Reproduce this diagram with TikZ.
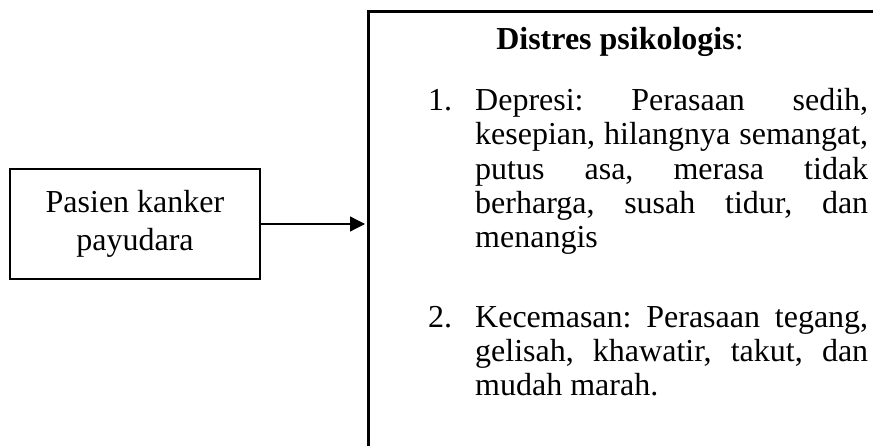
\documentclass[tikz,border=0pt]{standalone}
\usepackage{fontspec}
\setmainfont{Liberation Serif}
\usetikzlibrary{arrows.meta,positioning}
\newcommand{\penuh}[1]{\makebox[393pt][s]{#1}}
\frenchspacing

\begin{document}
\begin{tikzpicture}[x=1pt,y=-1pt,>={Triangle[length=15pt,width=15pt]},
  kotak/.style={draw,line width=2.6pt,rectangle,inner sep=0pt},
  teks/.style={font=\fontsize{32}{38}\selectfont},
  baris/.style={teks,anchor=base west,inner sep=0pt}]
  \useasboundingbox (0,0) rectangle (873,446);
  % Left box
  \node[kotak,teks,minimum width=250pt,minimum height=110pt,align=center] (pasien) at (135,224) {Pasien kanker\\payudara};
  % Right box, runs past the page edge
  \node[kotak,anchor=north west,minimum width=515pt,minimum height=480pt] (distres) at (367,10) {};
  \node[teks,anchor=base,inner sep=0pt] (judul) at (620,50) {\textbf{Distres psikologis}:};
  % Arrow
  \draw[->,line width=1.3pt,shorten >=2pt] (pasien.east) -- (pasien.east -| distres.west);
  % Item 1
  \node[baris] (no1) at (428,111) {1.};
  \node[baris] (d1) at (475,111) {\penuh{Depresi: Perasaan sedih,}};
  \node[baris] (d2) at (475,145) {\penuh{kesepian, hilangnya semangat,}};
  \node[baris] (d3) at (475,180) {\penuh{putus asa, merasa tidak}};
  \node[baris] (d4) at (475,214) {\penuh{berharga, susah tidur, dan}};
  \node[baris] (d5) at (475,248) {menangis};
  % Item 2
  \node[baris] (no2) at (428,327) {2.};
  \node[baris] (k1) at (475,327) {\penuh{Kecemasan: Perasaan tegang,}};
  \node[baris] (k2) at (475,361) {\penuh{gelisah, khawatir, takut, dan}};
  \node[baris] (k3) at (475,395) {mudah marah.};
\end{tikzpicture}
\end{document}
